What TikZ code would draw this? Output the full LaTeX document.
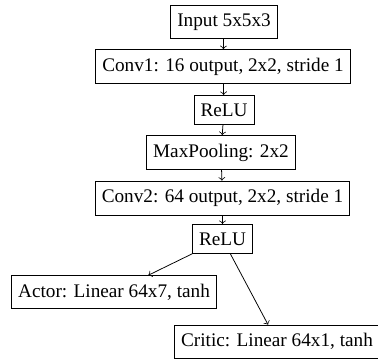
\documentclass[tikz,border=0pt]{standalone}
\usepackage{fontspec}
\setmainfont{Liberation Serif}
\begin{document}
\begin{tikzpicture}[x=0.52pt,y=-0.52pt,
  layer/.style={draw,thin,inner ysep=4.3pt,font=\fontsize{10}{12}\selectfont},
  conn/.style={->,thin}]
\useasboundingbox (0,0) rectangle (378,358);
\node[layer] (in) at (224,22) {Input 5x5x3};
\node[layer] (c1) at (223,66.5) {Conv1: 16 output, 2x2, stride 1};
\node[layer] (r1) at (224,110) {ReLU};
\node[layer] (mp) at (221,152.5) {MaxPooling: 2x2};
\node[layer] (c2) at (222.5,198) {Conv2: 64 output, 2x2, stride 1};
\node[layer] (r2) at (222.5,239) {ReLU};
\node[layer] (ac) at (114,292) {Actor: Linear 64x7, tanh};
\node[layer] (cr) at (277,341.5) {Critic: Linear 64x1, tanh};
\draw[conn] (in) -- (c1);
\draw[conn] (c1) -- (r1);
\draw[conn] (r1) -- (mp);
\draw[conn] (mp) -- (c2);
\draw[conn] (c2) -- (r2);
\draw[conn] (r2) -- (ac);
\draw[conn] (r2) -- (cr);
\end{tikzpicture}
\end{document}
